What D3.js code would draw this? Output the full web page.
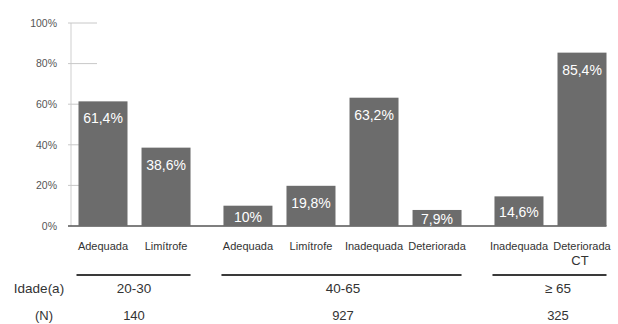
<!DOCTYPE html>
<html><head><meta charset="utf-8">
<script src="https://cdn.jsdelivr.net/npm/d3@7"></script>
<style>
html,body{margin:0;padding:0;background:#fff;}
svg{display:block;font-family:"Liberation Sans",Arial,sans-serif;}
</style></head>
<body>
<svg id="chart" width="618" height="324"></svg>
<script>
// Percent of subjects per category, grouped by age range
const categories = ["Adequada","Limítrofe","Adequada","Limítrofe","Inadequada","Deteriorada","Inadequada","Deteriorada"];
const groupOf    = [0,0,1,1,1,1,2,2];
const values     = [61.4,38.6,10,19.8,63.2,7.9,14.6,85.4];
const valueLabels = ["61,4%","38,6%","10%","19,8%","63,2%","7,9%","14,6%","85,4%"];
const groupAges  = ["20-30","40-65","≥ 65"];
const groupN     = ["140","927","325"];
const yTicks     = [0,20,40,60,80,100];

const svg = d3.select("#chart");
const barColor = "#6c6c6c";

// y scale: 0% baseline to 100%
const y = d3.scaleLinear().domain([0,100]).range([226,23]);

// x: each bar gets a slot; groups are separated by an extra gap
const gap = 0.3;
const slot = categories.map((c,i)=> i + groupOf[i]*gap);
const x = d3.scaleLinear().domain([0, 7 + 2*gap]).range([103, 582]);
const barW = 49;

// y axis line and ticks
svg.append("line").attr("x1",71).attr("x2",71).attr("y1",y(100)).attr("y2",y(0))
  .attr("stroke","#cfcfcf").attr("stroke-width",1);
const yAxis = d3.axisLeft(y).tickValues(yTicks).tickSize(0).tickFormat(d=>d+"%");
const gy = svg.append("g").attr("transform","translate(60,0)").call(yAxis);
gy.select(".domain").remove();
gy.selectAll("text").attr("fill","#555").attr("font-size",10.5).attr("dx",0);
svg.selectAll(".ytick").data(yTicks.filter(d=>d>0)).join("line")
  .attr("class","ytick")
  .attr("x1",68).attr("x2",97)
  .attr("y1",d=>y(d)).attr("y2",d=>y(d))
  .attr("stroke","#c8c8c8").attr("stroke-width",1);

// baseline
svg.append("line").attr("x1",68).attr("x2",x(slot[7])+barW/2).attr("y1",y(0)).attr("y2",y(0))
  .attr("stroke","#555").attr("stroke-width",1.5);

// bars
svg.selectAll(".bar").data(values).join("rect")
  .attr("class","bar")
  .attr("x",(d,i)=>x(slot[i])-barW/2)
  .attr("width",barW)
  .attr("y",d=>y(d))
  .attr("height",d=>y(0)-y(d))
  .attr("fill",barColor);

// value labels inside bars
svg.selectAll(".val").data(values).join("text")
  .attr("class","val")
  .attr("x",(d,i)=>x(slot[i]))
  .attr("y",d=>{const h=y(0)-y(d); return y(d)+Math.min(17,h/2+1);})
  .attr("dy","0.35em")
  .attr("text-anchor","middle")
  .attr("fill","#fff")
  .attr("font-size",14)
  .text((d,i)=>valueLabels[i]);

// category labels
svg.selectAll(".cat").data(categories).join("text")
  .attr("class","cat")
  .attr("x",(d,i)=>x(slot[i]))
  .attr("y",246)
  .attr("dy","0.35em")
  .attr("text-anchor","middle")
  .attr("fill","#333")
  .attr("font-size",11)
  .text(d=>d);
svg.append("text").attr("x",x(slot[7])-2).attr("y",260).attr("dy","0.35em")
  .attr("text-anchor","middle").attr("fill","#333").attr("font-size",13).text("CT");

// group underlines and labels
const groups = groupAges.map((g,gi)=>{
  const idx = groupOf.map((v,i)=>v===gi?i:-1).filter(i=>i>=0);
  return {age:g, n:groupN[gi], x0:x(slot[idx[0]])-barW/2-2, x1:x(slot[idx[idx.length-1]])+barW/2};
});
svg.selectAll(".gline").data(groups).join("line")
  .attr("class","gline")
  .attr("x1",d=>d.x0).attr("x2",d=>d.x1)
  .attr("y1",275).attr("y2",275)
  .attr("stroke","#3a3a3a").attr("stroke-width",2);
const centers = [134,343,558];
svg.selectAll(".gage").data(groups).join("text")
  .attr("class","gage")
  .attr("x",(d,i)=>centers[i]).attr("y",288).attr("dy","0.35em")
  .attr("text-anchor","middle").attr("fill","#333").attr("font-size",13.5)
  .text(d=>d.age);
svg.selectAll(".gn").data(groups).join("text")
  .attr("class","gn")
  .attr("x",(d,i)=>centers[i]).attr("y",315).attr("dy","0.35em")
  .attr("text-anchor","middle").attr("fill","#333").attr("font-size",13)
  .text(d=>d.n);

// row headings
svg.append("text").attr("x",39).attr("y",288).attr("dy","0.35em")
  .attr("text-anchor","middle").attr("fill","#333").attr("font-size",13.5).text("Idade(a)");
svg.append("text").attr("x",44).attr("y",315).attr("dy","0.35em")
  .attr("text-anchor","middle").attr("fill","#333").attr("font-size",13).text("(N)");
</script>
</body></html>
